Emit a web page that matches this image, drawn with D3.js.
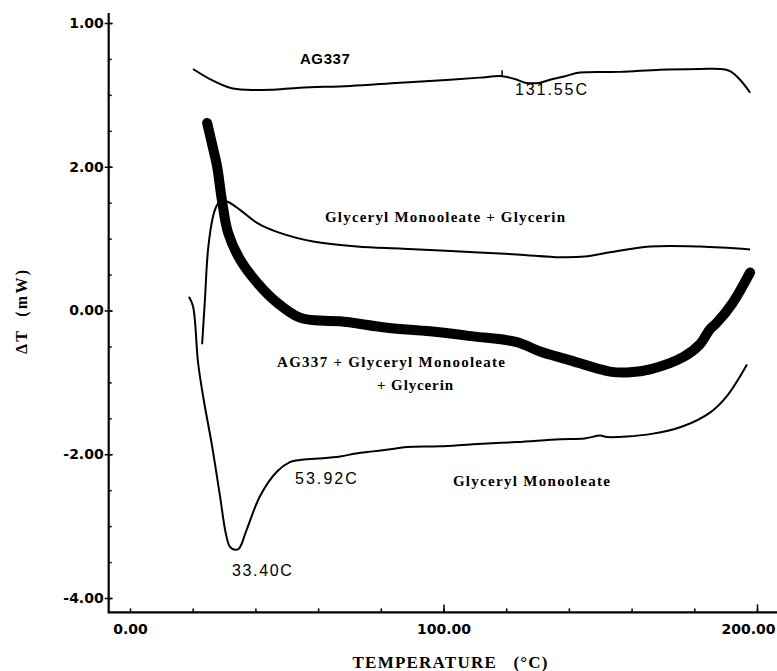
<!DOCTYPE html>
<html>
<head>
  <meta charset="utf-8">
  <title>DSC thermograms</title>
  <script src="https://d3js.org/d3.v7.min.js"></script>
  <style>
    body { margin: 0; background: #fff; }
  </style>
</head>
<body>
  <script>
    // data (temperature in C, plotted value in mW offset units)
    var ag337Temp = [20.1, 25.5, 31.9, 37.3, 44.7, 54.2, 70.2, 86.1, 102.1, 111.6, 118.7, 122.8, 126, 130.8, 134, 138.8, 143.5, 156.3, 169.1, 181.8, 188.2, 191.4, 194.6, 197.8];
    var ag337Val  = [3.36, 3.22, 3.10, 3.07, 3.07, 3.10, 3.125, 3.17, 3.21, 3.24, 3.26, 3.22, 3.17, 3.17, 3.21, 3.26, 3.31, 3.32, 3.35, 3.36, 3.36, 3.33, 3.21, 3.03];

    var gmoGlyTemp = [23.0, 23.9, 24.9, 26.5, 27.8, 29.3, 31.3, 35.1, 40.5, 47.8, 58.4, 72.4, 87.1, 105.3, 123.4, 137.2, 145.1, 153.1, 165.9, 181.8, 197.8];
    var gmoGlyVal  = [-0.47, 0.15, 0.85, 1.31, 1.47, 1.53, 1.51, 1.40, 1.22, 1.08, 0.96, 0.89, 0.86, 0.82, 0.78, 0.74, 0.75, 0.81, 0.89, 0.89, 0.85];

    var mixTemp = [24.6, 26.2, 27.8, 29.3, 31.3, 35.1, 40.5, 46.9, 54.2, 60.6, 67.0, 82.0, 95.7, 109.4, 123.4, 130.8, 139.4, 153.1, 159.5, 165.9, 176.4, 181.8, 185, 187.2, 192.3, 197.8];
    var mixVal  = [2.61, 2.31, 2.00, 1.54, 1.08, 0.71, 0.39, 0.11, -0.10, -0.14, -0.15, -0.24, -0.29, -0.36, -0.44, -0.57, -0.68, -0.85, -0.86, -0.82, -0.65, -0.47, -0.26, -0.17, 0.11, 0.53];

    var gmoTemp = [18.8, 20.1, 21.7, 23.3, 26.2, 28.7, 30.6, 31.9, 33.5, 34.8, 37.3, 41.5, 46.9, 51.0, 54.2, 60.0, 67.0, 72.0, 77.5, 83.0, 88.4, 98.9, 109.4, 123.4, 137.2, 145.0, 150.0, 152.2, 165.9, 176.4, 185.0, 190.4, 196.8];
    var gmoVal  = [0.19, 0.06, -0.72, -1.19, -1.89, -2.58, -3.11, -3.29, -3.33, -3.31, -3.04, -2.58, -2.24, -2.11, -2.08, -2.06, -2.03, -1.99, -1.96, -1.93, -1.90, -1.89, -1.86, -1.83, -1.79, -1.78, -1.74, -1.76, -1.72, -1.61, -1.42, -1.19, -0.75];

    // axis ticks and labels
    var xTickValues = [0, 100, 200];
    var xTickLabels = ["0.00", "100.00", "200.00"];
    var xMinorTicks = d3.range(0, 201, 20);
    var yTickValues = [-4, -2, 0, 2, 4];
    var yTickLabels = ["-4.00", "-2.00", "0.00", "2.00", "1.00"];
    var yMinorTicks = d3.range(-4, 4.01, 0.5);

    var width = 777, height = 671;
    var svg = d3.select("body").append("svg").attr("width", width).attr("height", height);

    var x = d3.scaleLinear().domain([0, 200]).range([130, 757]);
    var y = d3.scaleLinear().domain([-4, 4]).range([598, 23]);

    // axis lines
    var axisLeftX = x(-6.8), axisBottomY = y(-4.2);
    svg.append("line")
      .attr("x1", axisLeftX).attr("x2", axisLeftX)
      .attr("y1", y(4.14)).attr("y2", axisBottomY)
      .attr("stroke", "#000").attr("stroke-width", 2.2);
    svg.append("line")
      .attr("x1", axisLeftX - 1).attr("x2", x(207.5))
      .attr("y1", axisBottomY).attr("y2", axisBottomY)
      .attr("stroke", "#000").attr("stroke-width", 2.2);

    // y axis
    var yAxis = svg.append("g")
      .attr("transform", "translate(" + axisLeftX + ",0)")
      .call(d3.axisLeft(y).tickValues(yTickValues).tickSize(4).tickPadding(1)
        .tickFormat((d, i) => yTickLabels[i]));
    yAxis.select(".domain").remove();
    yAxis.selectAll("line").attr("stroke-width", 1.5).attr("x2", -4).attr("x1", 4);
    yAxis.selectAll("text")
      .attr("font-family", "DejaVu Sans").attr("font-weight", "bold").attr("font-size", 14).attr("fill", "#000");

    var yMinor = svg.append("g")
      .attr("transform", "translate(" + axisLeftX + ",0)")
      .call(d3.axisRight(y).tickValues(yMinorTicks).tickSize(3).tickFormat(""));
    yMinor.select(".domain").remove();
    yMinor.selectAll("line").attr("stroke-width", 1.5);

    // x axis ticks pointing up
    var xMinor = svg.append("g")
      .attr("transform", "translate(0," + axisBottomY + ")")
      .call(d3.axisTop(x).tickValues(xMinorTicks).tickSize(4).tickFormat(""));
    xMinor.select(".domain").remove();
    xMinor.selectAll("line").attr("stroke-width", 1.5);

    var xMajor = svg.append("g")
      .attr("transform", "translate(0," + axisBottomY + ")")
      .call(d3.axisTop(x).tickValues([100, 200]).tickSize(8).tickFormat(""));
    xMajor.select(".domain").remove();
    xMajor.selectAll("line").attr("stroke-width", 1.5);

    var xAxis = svg.append("g")
      .attr("transform", "translate(0," + axisBottomY + ")")
      .call(d3.axisBottom(x).tickValues(xTickValues).tickSize(0).tickPadding(12)
        .tickFormat((d, i) => xTickLabels[i]));
    xAxis.select(".domain").remove();
    xAxis.selectAll("text")
      .attr("font-family", "DejaVu Sans").attr("font-weight", "bold").attr("font-size", 14).attr("fill", "#000");
    xAxis.selectAll("text").filter(d => d === 200).attr("text-anchor", "end").attr("dx", 18);

    // axis titles
    svg.append("text")
      .attr("transform", "translate(27,312) rotate(-90)")
      .attr("text-anchor", "middle")
      .attr("font-family", "Liberation Serif").attr("font-weight", "bold").attr("font-size", 16)
      .attr("textLength", 84).attr("xml:space", "preserve")
      .text("\u0394T  (mW)");
    svg.append("text")
      .attr("x", 450).attr("y", 668)
      .attr("text-anchor", "middle")
      .attr("font-family", "Liberation Serif").attr("font-weight", "bold").attr("font-size", 17)
      .attr("textLength", 195).attr("xml:space", "preserve")
      .text("TEMPERATURE   (\u00B0C)");

    // curves
    var line = d3.line().x(d => x(d[0])).y(d => y(d[1])).curve(d3.curveCatmullRom);
    function series(t, v) { return t.map((d, i) => [d, v[i]]); }

    svg.append("path").datum(series(ag337Temp, ag337Val))
      .attr("d", line).attr("fill", "none").attr("stroke", "#000").attr("stroke-width", 2);
    svg.append("path").datum(series(gmoGlyTemp, gmoGlyVal))
      .attr("d", line).attr("fill", "none").attr("stroke", "#000").attr("stroke-width", 2);
    svg.append("path").datum(series(gmoTemp, gmoVal))
      .attr("d", line).attr("fill", "none").attr("stroke", "#000").attr("stroke-width", 2);
    svg.append("path").datum(series(mixTemp, mixVal))
      .attr("d", line).attr("fill", "none").attr("stroke", "#000").attr("stroke-width", 10)
      .attr("stroke-linecap", "round").attr("stroke-linejoin", "round");

    // small tick mark on the AG337 trace
    svg.append("line")
      .attr("x1", x(118.7)).attr("x2", x(118.7))
      .attr("y1", y(3.26)).attr("y2", y(3.26) - 6)
      .attr("stroke", "#000").attr("stroke-width", 1.5);

    // annotations
    function note(txt, tx, ty, fam, weight, size, len) {
      var t = svg.append("text")
        .attr("x", x(tx)).attr("y", y(ty))
        .attr("font-family", fam).attr("font-weight", weight).attr("font-size", size)
        .text(txt);
      if (len) t.attr("textLength", len);
    }
    note("AG337", 54.2, 3.43, "Liberation Sans", "bold", 15, 50);
    note("131.55C", 122.8, 3.0, "Liberation Sans", "normal", 16, 72);
    note("Glyceryl Monooleate + Glycerin", 62.2, 1.23, "Liberation Serif", "bold", 15, 240);
    note("AG337 + Glyceryl Monooleate", 46.9, -0.78, "Liberation Serif", "bold", 15, 228);
    note("+ Glycerin", 78.8, -1.11, "Liberation Serif", "bold", 15, 76);
    note("53.92C", 52.6, -2.42, "Liberation Sans", "normal", 16, 62);
    note("Glyceryl Monooleate", 103.0, -2.44, "Liberation Serif", "bold", 15, 157);
    note("33.40C", 32.5, -3.70, "Liberation Sans", "normal", 16, 60);
  </script>
</body>
</html>
